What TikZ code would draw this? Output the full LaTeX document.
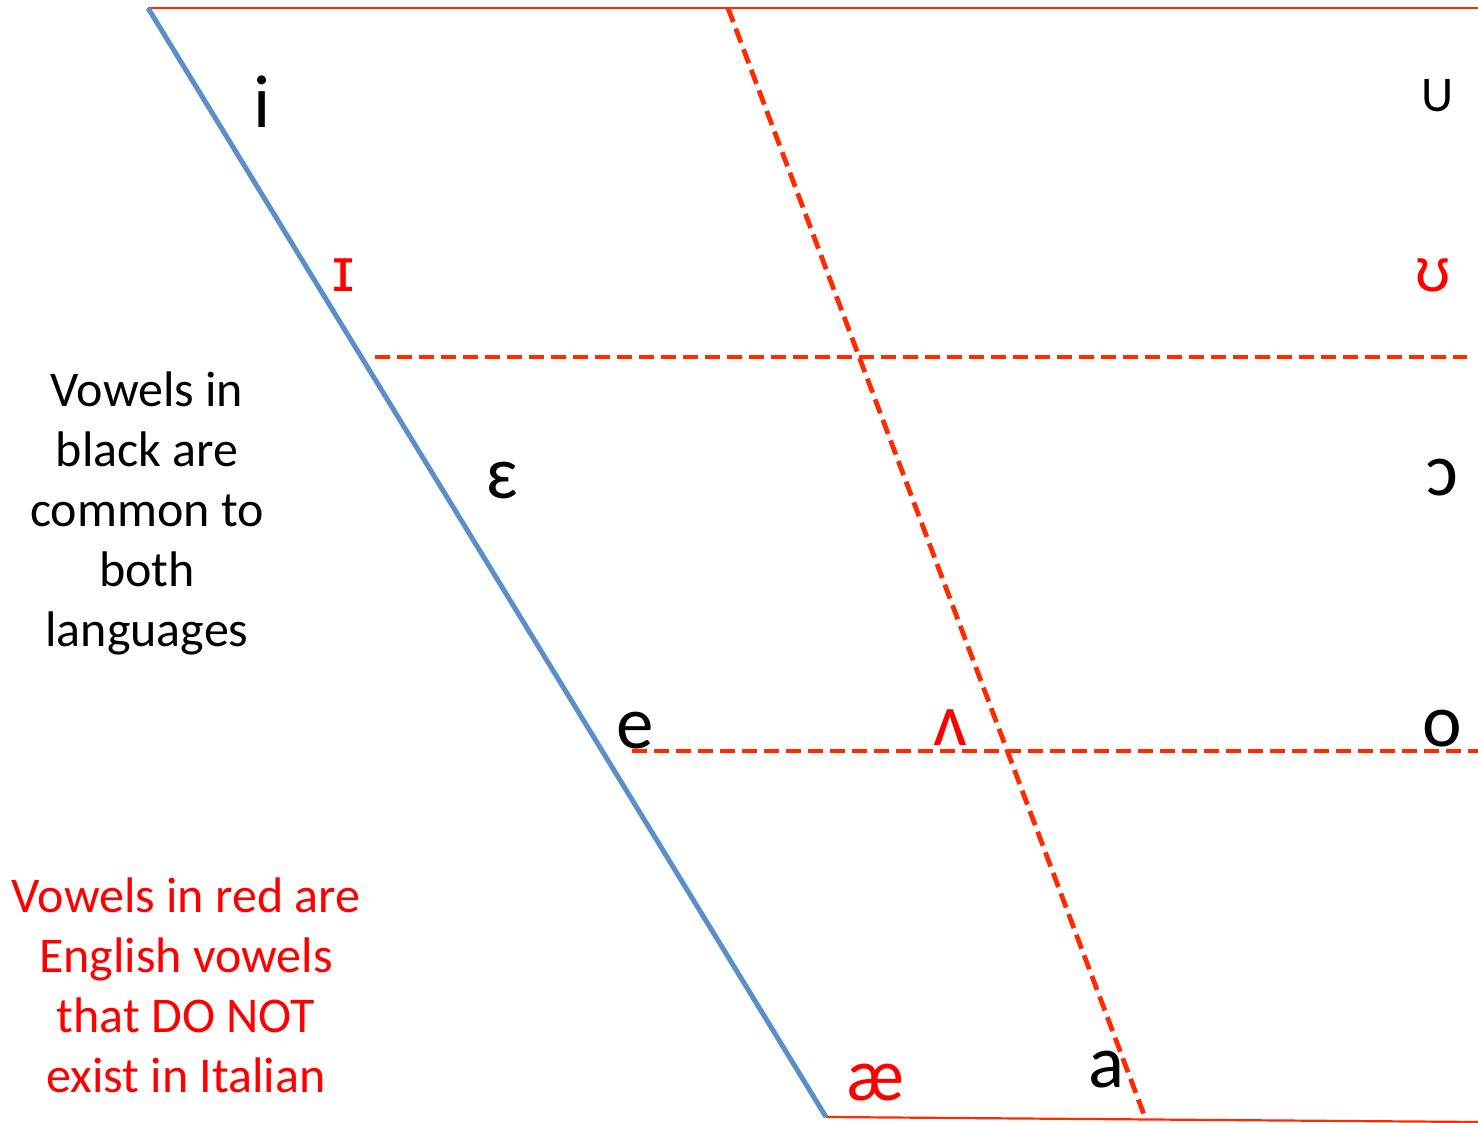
\documentclass[tikz,border=0pt]{standalone}
\usepackage{fontspec}
\setmainfont{Carlito}
\newfontfamily\ipafont{Liberation Sans}
\definecolor{lred}{HTML}{FF2A00}
\definecolor{tred}{HTML}{FF0000}
\definecolor{lblue}{HTML}{5B8FC8}
\begin{document}
\begin{tikzpicture}[x=1pt,y=-1pt,
  solidred/.style={draw=lred,line width=2.2pt},
  dashred/.style={draw=lred,line width=4.8pt,dash pattern=on 15pt off 7pt},
  vow/.style={anchor=base,inner sep=0pt,font=\fontsize{75}{80}\selectfont},
  vowipa/.style={anchor=base,inner sep=0pt,font=\fontsize{62}{68}\ipafont},
  vowsmall/.style={anchor=base,inner sep=0pt,font=\fontsize{50}{56}\selectfont},
  note/.style={align=center,font=\fontsize{50}{60}\selectfont,inner sep=0pt}]
\useasboundingbox (0,0) rectangle (1478,1123);
\coordinate (tl) at (148,8);
\coordinate (tr) at (1478,8);
\coordinate (bl) at (826,1117);
\coordinate (br) at (1478,1122);
\coordinate (mt) at (728,8);
\coordinate (mb) at (1146,1120);
\coordinate (h1a) at (375,357);
\coordinate (h1b) at (1467,357);
\coordinate (h2a) at (632,751);
\coordinate (h2b) at (1478,751);
\draw[solidred] (tl) -- (tr);
\draw[solidred] (bl) -- (br);
\draw[dashred] (mt) -- (mb);
\draw[dashred] (h1a) -- (h1b);
\draw[dashred] (h2a) -- (h2b);
\draw[draw=lblue,line width=5pt] (tl) -- (bl);
\node[vow] (vi) at (262,128) {i};
\node[vowsmall] (vu) at (1438,112) {U};
\node[vowipa,text=tred] (vI) at (344,292) {ɪ};
\node[vowipa,text=tred] (vU) at (1433,292) {ʊ};
\node[vow] (veps) at (502,498) {ɛ};
\node[vow] (vopen) at (1442,495) {ɔ};
\node[vow] (ve) at (635,748) {e};
\node[vow,text=tred] (vwedge) at (950,745) {ʌ};
\node[vow] (vo) at (1442,746) {o};
\node[vow,text=tred] (vae) at (875,1100) {æ};
\node[vow] (va) at (1106,1087) {a};
\node[note] (n1) at (147,513) {Vowels in\\black are\\common to\\both\\languages};
\node[note,text=tred] (n2) at (186,985) {Vowels in red are\\English vowels\\that DO NOT\\exist in Italian};
\end{tikzpicture}
\end{document}
